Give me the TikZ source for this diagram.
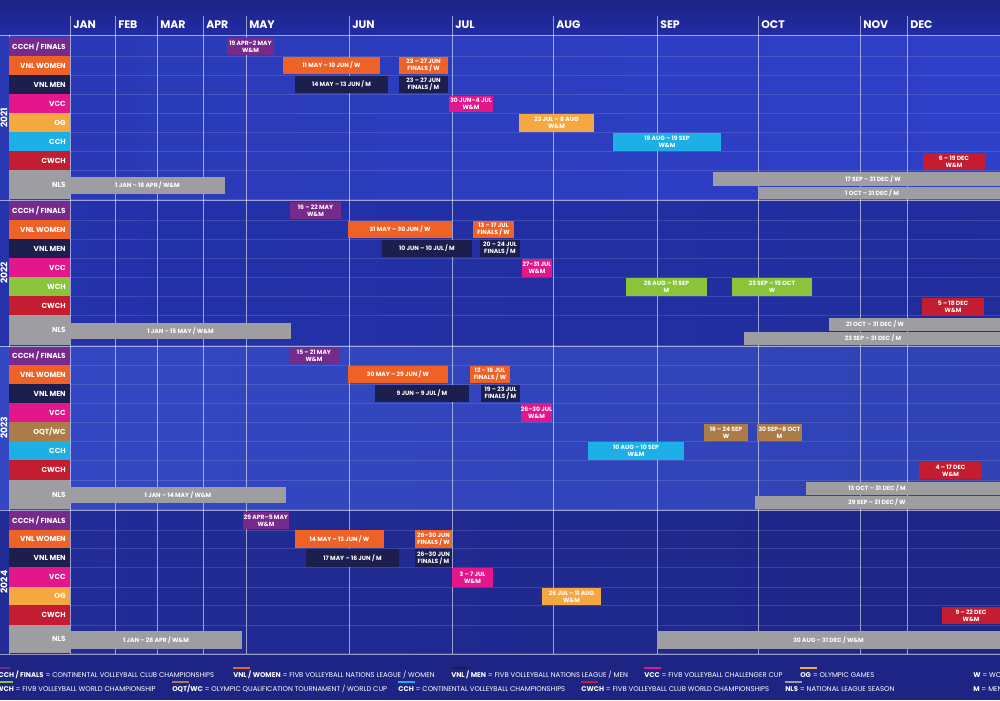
\documentclass[tikz,border=0pt]{standalone}
\usepackage{fontspec}
\setmainfont{Poppins}

\definecolor{ccch}{RGB}{118,42,140}
\definecolor{vnlw}{RGB}{238,98,38}
\definecolor{vnlm}{RGB}{28,30,78}
\definecolor{vcc}{RGB}{228,22,140}
\definecolor{og}{RGB}{246,168,64}
\definecolor{cch}{RGB}{28,176,230}
\definecolor{cwch}{RGB}{196,28,48}
\definecolor{nls}{RGB}{158,158,162}
\definecolor{wch}{RGB}{138,196,58}
\definecolor{oqt}{RGB}{172,124,72}
\definecolor{bghead}{RGB}{34,44,165}
\definecolor{bgA}{RGB}{46,64,200}
\definecolor{bgB}{RGB}{36,50,172}
\definecolor{bgC}{RGB}{56,78,212}
\definecolor{bgD}{RGB}{34,44,152}
\definecolor{bgleg}{RGB}{30,36,132}

\tikzset{
  bartext/.style={text=white,font=\fontsize{4.3}{4.9}\selectfont\bfseries,align=center,inner sep=0pt},
  rowtext/.style={text=white,font=\fontsize{5.2}{6}\selectfont\bfseries,anchor=east,inner sep=0pt},
  monthtext/.style={text=white,font=\fontsize{7.8}{9}\selectfont\bfseries,anchor=west,inner sep=0pt},
  yeartext/.style={text=white,font=\fontsize{6.5}{7}\selectfont\bfseries,rotate=90,inner sep=0pt},
  legtext/.style={text=white,font=\fontsize{4.9}{5.5}\selectfont,anchor=west,inner sep=0pt},
  swatch/.style={draw=#1,line width=1.1pt},
  gridmajor/.style={draw=white,draw opacity=0.55,line width=0.6pt},
  gridminor/.style={draw=white,draw opacity=0.13,line width=0.4pt},
}

% row label cell: name, top, bottom, colour, text
\newcommand{\rowlab}[5]{%
  \fill[#4] (9,#2) rectangle (70,#3);
  \draw[gridminor] (70,#3) -- (1000,#3);
  \node[rowtext] (#1) at (66,{(#2+#3)/2}) {#5};}

% event bar: [text x], name, x1, y1, x2, y2, colour, text
\newcommand{\evbar}[8][]{%
  \fill[#7] (#3,#4) rectangle (#5,#6);
  \ifx\relax#1\relax
    \node[bartext] (#2) at ({(#3+#5)/2},{(#4+#6)/2}) {#8};
  \else
    \node[bartext] (#2) at (#1,{(#4+#6)/2}) {#8};
  \fi}

\begin{document}
\begin{tikzpicture}[x=0.025cm,y=-0.025cm]
\useasboundingbox (0,0) rectangle (1000,700);

% background
\shade[top color=bghead!80!black,bottom color=bghead] (0,0) rectangle (1000,35);
\shade[left color=bgA!90!black,right color=bgA] (0,35) rectangle (1000,200);
\shade[left color=bgB,right color=bgB!90!black] (0,200) rectangle (1000,346);
\shade[left color=bgC!92!black,right color=bgC!85!black] (0,346) rectangle (1000,510);
\shade[left color=bgD,right color=bgD!88!black] (0,510) rectangle (1000,654);
\fill[bgleg] (0,654) rectangle (1000,700);

% month grid
\foreach \x in {70,115,157,203,246,349,452,553,657,758,860,907}
  \draw[gridmajor] (\x,16) -- (\x,654);
\foreach \m/\x in {JAN/70,FEB/115,MAR/157,APR/203,MAY/246,JUN/349,JUL/452,AUG/553,SEP/657,OCT/758,NOV/860,DEC/907}
  \node[monthtext] (month-\m) at (\x+3,25) {\m};
\foreach \y in {35,200,346,510,654}
  \draw[gridmajor] (0,\y) -- (1000,\y);
\draw[gridmajor] (9,35) -- (9,654);

% 2021
\node[yeartext] (y2021) at (4,118) {2021};
\rowlab{r21-ccch}{37}{56}{ccch}{CCCH / FINALS}
\rowlab{r21-vnlw}{56}{75}{vnlw}{VNL WOMEN}
\rowlab{r21-vnlm}{75}{94}{vnlm}{VNL MEN}
\rowlab{r21-vcc}{94}{113}{vcc}{VCC}
\rowlab{r21-og}{113}{132}{og}{OG}
\rowlab{r21-cch}{132}{151}{cch}{CCH}
\rowlab{r21-cwch}{151}{170}{cwch}{CWCH}
\rowlab{r21-nls}{170}{199}{nls}{NLS}
\evbar{a1}{227}{38}{274}{55}{ccch}{19 APR–2 MAY\\W\&M}
\evbar{a2}{283}{57}{380}{74}{vnlw}{11 MAY – 10 JUN / W}
\evbar{a3}{399}{57}{448}{74}{vnlw}{23 – 27 JUN\\FINALS / W}
\evbar{a4}{295}{76}{388}{93}{vnlm}{14 MAY – 13 JUN / M}
\evbar{a5}{399}{76}{448}{93}{vnlm}{23 – 27 JUN\\FINALS / M}
\evbar{a6}{449}{96}{493}{112}{vcc}{30 JUN–4 JUL\\W\&M}
\evbar{a7}{519}{114}{594}{132}{og}{23 JUL – 8 AUG\\W\&M}
\evbar{a8}{613}{133}{721}{151}{cch}{19 AUG – 19 SEP\\W\&M}
\evbar{a9}{923}{153}{985}{170}{cwch}{6 – 19 DEC\\W\&M}
\evbar{a10}{70}{177}{225}{194}{nls}{1 JAN – 18 APR / W\&M}
\evbar[873]{a11}{713}{172}{1000}{186}{nls}{17 SEP – 31 DEC / W}
\evbar[872]{a12}{758}{187}{1000}{199}{nls}{1 OCT – 31 DEC / M}

% 2022
\node[yeartext] (y2022) at (4,273) {2022};
\rowlab{r22-ccch}{201}{220}{ccch}{CCCH / FINALS}
\rowlab{r22-vnlw}{220}{239}{vnlw}{VNL WOMEN}
\rowlab{r22-vnlm}{239}{258}{vnlm}{VNL MEN}
\rowlab{r22-vcc}{258}{277}{vcc}{VCC}
\rowlab{r22-wch}{277}{296}{wch}{WCH}
\rowlab{r22-cwch}{296}{315}{cwch}{CWCH}
\rowlab{r22-nls}{315}{345}{nls}{NLS}
\evbar{b1}{290}{202}{341}{219}{ccch}{16 – 22 MAY\\W\&M}
\evbar{b2}{348}{221}{452}{238}{vnlw}{31 MAY – 30 JUN / W}
\evbar{b3}{473}{221}{514}{238}{vnlw}{13 – 17 JUL\\FINALS / W}
\evbar{b4}{382}{240}{472}{257}{vnlm}{10 JUN – 10 JUL / M}
\evbar{b5}{480}{240}{520}{257}{vnlm}{20 – 24 JUL\\FINALS / M}
\evbar{b6}{522}{259}{552}{277}{vcc}{27–31 JUL\\W\&M}
\evbar{b7}{626}{278}{707}{296}{wch}{26 AUG – 11 SEP\\M}
\evbar{b8}{732}{278}{812}{296}{wch}{23 SEP – 15 OCT\\W}
\evbar{b9}{922}{298}{984}{316}{cwch}{5 – 18 DEC\\W\&M}
\evbar{b10}{70}{323}{291}{339}{nls}{1 JAN – 15 MAY / W\&M}
\evbar[875]{b11}{829}{318}{1000}{331}{nls}{21 OCT – 31 DEC / W}
\evbar[873]{b12}{744}{332}{1000}{345}{nls}{23 SEP – 31 DEC / M}

% 2023
\node[yeartext] (y2023) at (4,428) {2023};
\rowlab{r23-ccch}{347}{365}{ccch}{CCCH / FINALS}
\rowlab{r23-vnlw}{365}{384}{vnlw}{VNL WOMEN}
\rowlab{r23-vnlm}{384}{403}{vnlm}{VNL MEN}
\rowlab{r23-vcc}{403}{422}{vcc}{VCC}
\rowlab{r23-oqt}{422}{441}{oqt}{OQT/WC}
\rowlab{r23-cch}{441}{460}{cch}{CCH}
\rowlab{r23-cwch}{460}{480}{cwch}{CWCH}
\rowlab{r23-nls}{480}{509}{nls}{NLS}
\evbar{c1}{289}{347}{339}{364}{ccch}{15 – 21 MAY\\W\&M}
\evbar{c2}{348}{366}{448}{383}{vnlw}{30 MAY – 29 JUN / W}
\evbar{c3}{470}{366}{510}{383}{vnlw}{12 – 16 JUL\\FINALS / W}
\evbar{c4}{375}{385}{469}{402}{vnlm}{9 JUN – 9 JUL / M}
\evbar{c5}{481}{385}{520}{402}{vnlm}{19 – 23 JUL\\FINALS / M}
\evbar{c6}{521}{404}{552}{422}{vcc}{26–30 JUL\\W\&M}
\evbar{c7}{704}{424}{748}{441}{oqt}{16 – 24 SEP\\W}
\evbar{c8}{757}{424}{802}{441}{oqt}{30 SEP–8 OCT\\M}
\evbar{c9}{588}{442}{684}{460}{cch}{10 AUG – 10 SEP\\W\&M}
\evbar{c10}{919}{462}{982}{479}{cwch}{4 – 17 DEC\\W\&M}
\evbar{c11}{70}{487}{286}{503}{nls}{1 JAN – 14 MAY / W\&M}
\evbar[877]{c12}{806}{482}{1000}{495}{nls}{13 OCT – 31 DEC / M}
\evbar[877]{c13}{755}{496}{1000}{509}{nls}{29 SEP – 31 DEC / W}

% 2024
\node[yeartext] (y2024) at (4,582) {2024};
\rowlab{r24-ccch}{511}{530}{ccch}{CCCH / FINALS}
\rowlab{r24-vnlw}{530}{548}{vnlw}{VNL WOMEN}
\rowlab{r24-vnlm}{548}{567}{vnlm}{VNL MEN}
\rowlab{r24-vcc}{567}{587}{vcc}{VCC}
\rowlab{r24-og}{587}{605}{og}{OG}
\rowlab{r24-cwch}{605}{625}{cwch}{CWCH}
\rowlab{r24-nls}{625}{653}{nls}{NLS}
\evbar{d1}{243}{512}{289}{529}{ccch}{29 APR–5 MAY\\W\&M}
\evbar{d2}{295}{530}{384}{548}{vnlw}{14 MAY – 13 JUN / W}
\evbar{d3}{415}{530}{452}{548}{vnlw}{26–30 JUN\\FINALS / W}
\evbar{d4}{306}{549}{399}{567}{vnlm}{17 MAY – 16 JUN / M}
\evbar{d5}{415}{549}{452}{567}{vnlm}{26–30 JUN\\FINALS / M}
\evbar{d6}{452}{568}{493}{587}{vcc}{3 – 7 JUL\\W\&M}
\evbar{d7}{542}{588}{601}{605}{og}{26 JUL – 11 AUG\\W\&M}
\evbar{d8}{942}{607}{1000}{624}{cwch}{9 – 22 DEC\\W\&M}
\evbar{d9}{70}{631}{242}{649}{nls}{1 JAN – 28 APR / W\&M}
\evbar{d10}{657}{631}{1000}{649}{nls}{30 AUG – 31 DEC / W\&M}

% legend
\begin{scope}[every node/.style={legtext}]
  \node (lg-ccch) at (-7,675) {\textbf{CCCH / FINALS} = CONTINENTAL VOLLEYBALL CLUB CHAMPIONSHIPS};
  \node (lg-vnlw) at (233,675) {\textbf{VNL / WOMEN} = FIVB VOLLEYBALL NATIONS LEAGUE / WOMEN};
  \node (lg-vnlm) at (451,675) {\textbf{VNL / MEN} = FIVB VOLLEYBALL NATIONS LEAGUE / MEN};
  \node (lg-vcc) at (644,675) {\textbf{VCC} = FIVB VOLLEYBALL CHALLENGER CUP};
  \node (lg-og) at (800,675) {\textbf{OG} = OLYMPIC GAMES};
  \node (lg-w) at (973,675) {\textbf{W} = WOMEN};
  \node (lg-wch) at (-4,689) {\textbf{WCH} = FIVB VOLLEYBALL WORLD CHAMPIONSHIP};
  \node (lg-oqt) at (172,689) {\textbf{OQT/WC} = OLYMPIC QUALIFICATION TOURNAMENT / WORLD CUP};
  \node (lg-cch) at (398,689) {\textbf{CCH} = CONTINENTAL VOLLEYBALL CHAMPIONSHIPS};
  \node (lg-cwch) at (581,689) {\textbf{CWCH} = FIVB VOLLEYBALL CLUB WORLD CHAMPIONSHIPS};
  \node (lg-nls) at (785,689) {\textbf{NLS} = NATIONAL LEAGUE SEASON};
  \node (lg-m) at (973,689) {\textbf{M} = MEN};
\end{scope}
\foreach \n in {ccch,vnlw,vnlm,vcc,og,wch,oqt,cch,cwch,nls}
  \draw[swatch=\n] ([yshift=5pt]lg-\n.west) -- ++(17,0);
\end{tikzpicture}
\end{document}
